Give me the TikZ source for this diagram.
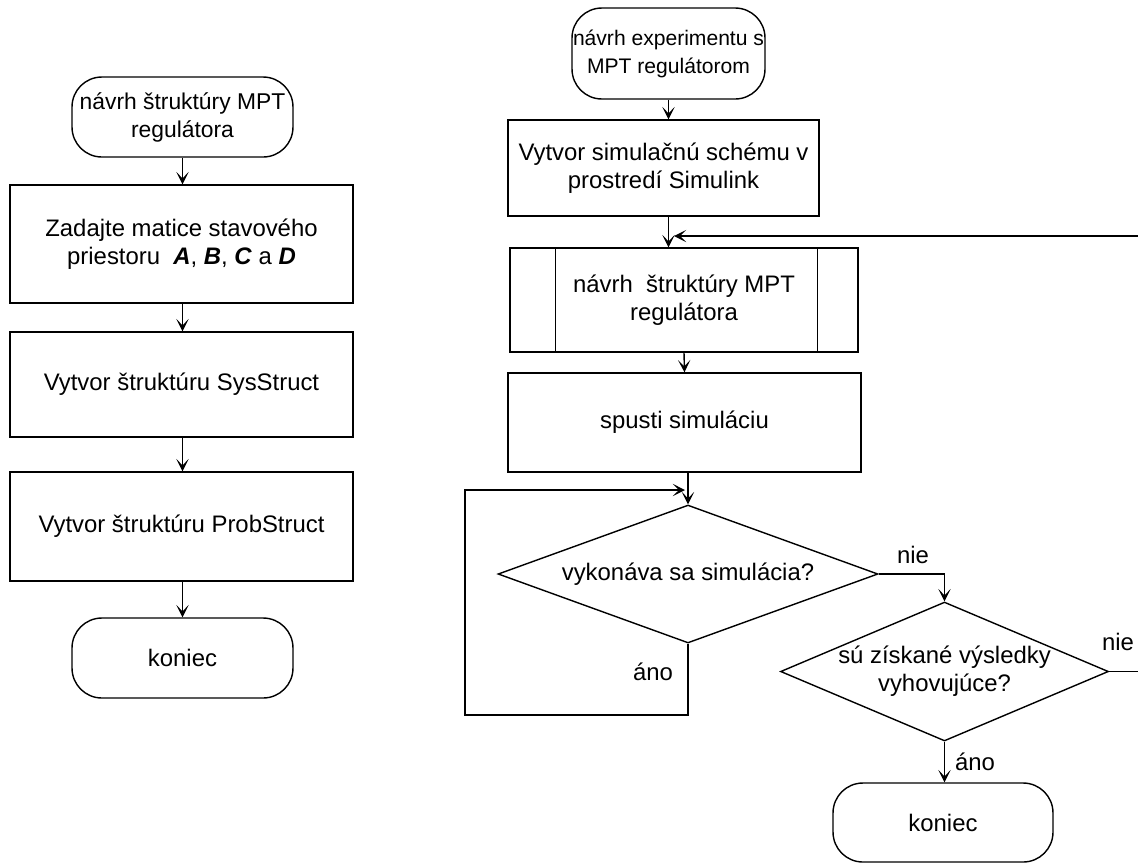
\documentclass[tikz,border=0pt]{standalone}
\usepackage{fontspec}
\setmainfont{Liberation Sans}
\usetikzlibrary{shapes.geometric,arrows.meta}

\begin{document}
\begin{tikzpicture}[>={Stealth[length=7pt,width=7pt,inset=3.6pt]}, x=0.02cm, y=-0.02cm,
    line width=0.8pt, font=\fontsize{13.6}{15.9}\selectfont,
    proc/.style={draw, rectangle, align=center, inner sep=0pt},
    term/.style={draw, rectangle, rounded corners=17pt, align=center, inner sep=0pt},
    dec/.style={draw, diamond, aspect=2.5, align=center, inner xsep=-12pt, inner ysep=0pt}]
    \useasboundingbox (0,0) rectangle (1138,863);
    \clip (0,0) rectangle (1138,863);

    % 1. Lavy diagram
    \node[term, minimum width=4.42cm, minimum height=1.6cm, font=\fontsize{13}{15.9}\selectfont] (t1) at (182.5,117) {návrh štruktúry MPT\\regulátora};
    \node[proc, minimum width=6.86cm, minimum height=2.36cm] (b1) at (181.5,244)
        {Zadajte matice stavového\\priestoru~ \textbf{\textit{A}}, \textbf{\textit{B}}, \textbf{\textit{C}} a \textbf{\textit{D}}};
    \node[proc, minimum width=6.86cm, minimum height=2.1cm] (b2) at (181.5,384.5) {Vytvor štruktúru SysStruct};
    \node[proc, minimum width=6.86cm, minimum height=2.18cm] (b3) at (181.5,526.5) {Vytvor štruktúru ProbStruct};
    \node[term, minimum width=4.42cm, minimum height=1.6cm] (k1) at (182.5,658) {koniec};

    \draw[->] (t1.south) -- (t1.south |- b1.north);
    \draw[->] (b1.south -| t1.south) -- (t1.south |- b2.north);
    \draw[->] (b2.south -| t1.south) -- (t1.south |- b3.north);
    \draw[->] (b3.south -| t1.south) -- (k1.north);

    % 2. Pravy diagram
    \node[term, minimum width=3.86cm, minimum height=1.82cm, font=\fontsize{12}{15.9}\selectfont] (t2) at (668.5,53.5) {návrh experimentu s\\MPT regulátorom};
    \node[proc, minimum width=6.22cm, minimum height=1.92cm] (v) at (663.5,168) {Vytvor simulačnú schému v\\prostredí Simulink};
    \node[proc, minimum width=6.96cm, minimum height=2.08cm] (pp) at (684,300) {návrh~ štruktúry MPT\\regulátora};
    \draw ([xshift=0.92cm]pp.north west) -- ([xshift=0.92cm]pp.south west);
    \draw ([xshift=-0.82cm]pp.north east) -- ([xshift=-0.82cm]pp.south east);
    \node[proc, minimum width=7.06cm, minimum height=1.98cm] (sp) at (684.5,422.5) {spusti simuláciu};
    \node[dec, minimum width=7.6cm, minimum height=2.76cm] (d1) at (688,574) {vykonáva sa simulácia?};
    \node[dec, minimum width=6.56cm, minimum height=2.78cm] (d2) at (944.5,671.5) {sú získané výsledky\\vyhovujúce?};
    \node[term, minimum width=4.4cm, minimum height=1.58cm] (k2) at (943,822.5) {koniec};

    % 3. Popisy vetiev
    \node (nie1) at (913,555) {nie};
    \node (ano1) at (653,672) {áno};
    \node (nie2) at (1118,642) {nie};
    \node (ano2) at (975,762) {áno};

    % 4. Spojnice
    \coordinate (fbR) at (1150,236);
    \coordinate (fbL) at (674,236);
    \coordinate (lpB) at (465,715);
    \coordinate (lpL) at (465,490);
    \coordinate (lpR) at (685,490);
    \draw[->] (t2.south) -- (t2.south |- v.north);
    \draw[->] (v.south -| t2.south) -- (t2.south |- pp.north);
    \draw[->] (pp.south) -- (sp.north);
    \draw[->] (sp.south -| d1.north) -- (d1.north);
    \draw[->] (d1.south) |- (lpB) -- (lpL) -- (lpR);
    \draw[->] (d1.east) -| (d2.north);
    \draw[->] (d2.south) -- (d2.south |- k2.north);
    \draw[->] (d2.east) -| (fbR) -- (fbL);
\end{tikzpicture}
\end{document}
